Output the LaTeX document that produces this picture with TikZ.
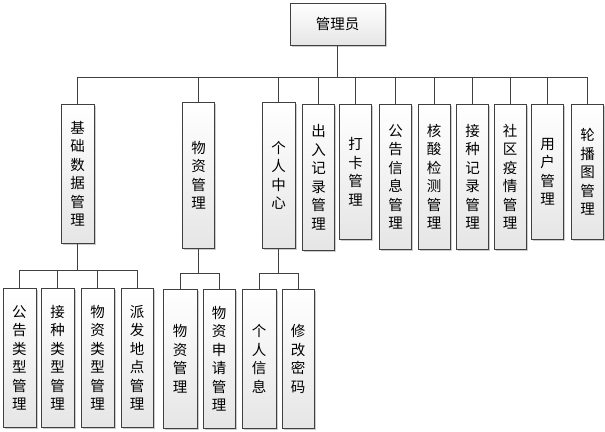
\documentclass[tikz,border=0pt]{standalone}
\usepackage{fontspec}
\setmainfont{Noto Sans CJK SC}
\usetikzlibrary{shadows}
\definecolor{lineGray}{HTML}{404040}
\begin{document}
\begin{tikzpicture}[x=1pt, y=-1pt,
		box/.style={draw=lineGray, line width=0.8pt, top color=white, bottom color=gray!20, minimum width=32pt, anchor=north, inner sep=0pt, align=center, font=\fontsize{14.5}{18.5}\selectfont, drop shadow={shadow xshift=1.5pt, shadow yshift=-1.5pt, fill=black!40, opacity=0.5}},
		link/.style={draw=lineGray, line width=0.8pt}]
		\useasboundingbox (0,0) rectangle (605,431);
		\def\topA{104};
		\def\topB{288};
		\def\busA{77};
		
		%root
		\node [box, minimum width=95pt, minimum height=42pt] (admin) at (337.5,3) {管理员};
		
		%level 1
		\node [box, minimum width=33pt, minimum height=139pt] (base) at (77.5,\topA) {基\\础\\数\\据\\管\\理};
		\node [box, minimum height=146pt] (goods) at (198.5,102) {物\\资\\管\\理};
		\node [box, minimum width=33pt, minimum height=146pt] (center) at (278.5,102) {个\\人\\中\\心};
		\node [box, minimum height=146pt] (access) at (318.5,\topA) {出\\入\\记\\录\\管\\理};
		\node [box, minimum height=135pt] (clock) at (355.5,\topA) {打\\卡\\管\\理};
		\node [box, minimum height=145pt] (notice) at (395.5,\topA) {公\\告\\信\\息\\管\\理};
		\node [box, minimum height=145pt] (test) at (434,\topA) {核\\酸\\检\\测\\管\\理};
		\node [box, minimum height=145pt] (vaccine) at (472.5,\topA) {接\\种\\记\\录\\管\\理};
		\node [box, minimum height=145pt] (epidemic) at (510,\topA) {社\\区\\疫\\情\\管\\理};
		\node [box, minimum height=135pt] (user) at (547.5,\topA) {用\\户\\管\\理};
		\node [box, minimum height=135pt] (banner) at (587.5,\topA) {轮\\播\\图\\管\\理};
		
		%level 2
		\node [box, minimum width=33pt, minimum height=139pt] (noticeType) at (19.5,\topB) {公\\告\\类\\型\\管\\理};
		\node [box, minimum width=33pt, minimum height=139pt] (vaccineType) at (57.5,\topB) {接\\种\\类\\型\\管\\理};
		\node [box, minimum width=33pt, minimum height=139pt] (goodsType) at (97.5,\topB) {物\\资\\类\\型\\管\\理};
		\node [box, minimum height=139pt] (place) at (137,\topB) {派\\发\\地\\点\\管\\理};
		\node [box, minimum width=34pt, minimum height=139pt] (goodsMgr) at (180,289) {物\\资\\管\\理};
		\node [box, minimum height=139pt] (apply) at (219,289) {物\\资\\申\\请\\管\\理};
		\node [box, minimum width=34pt, minimum height=139pt] (info) at (259,289) {个\\人\\信\\息};
		\node [box, minimum height=139pt] (password) at (298,289) {修\\改\\密\\码};
		
		%connectors
		\coordinate (busRoot) at (0,\busA);
		\coordinate (busBase) at (0,270);
		\coordinate (busGoods) at (0,273);
		\foreach \n in {base,goods,center,access,clock,notice,test,vaccine,epidemic,user,banner}
			\draw [link] (admin.south) -- (admin.south |- busRoot) -| (\n.north);
		\foreach \n in {noticeType,vaccineType,goodsType,place}
			\draw [link] (base.south) -- (base.south |- busBase) -| (\n.north);
		\foreach \n in {goodsMgr,apply}
			\draw [link] (goods.south) -- (goods.south |- busGoods) -| (\n.north);
		\foreach \n in {info,password}
			\draw [link] (center.south) -- (center.south |- busGoods) -| (\n.north);
	
	\end{tikzpicture}
\end{document}
